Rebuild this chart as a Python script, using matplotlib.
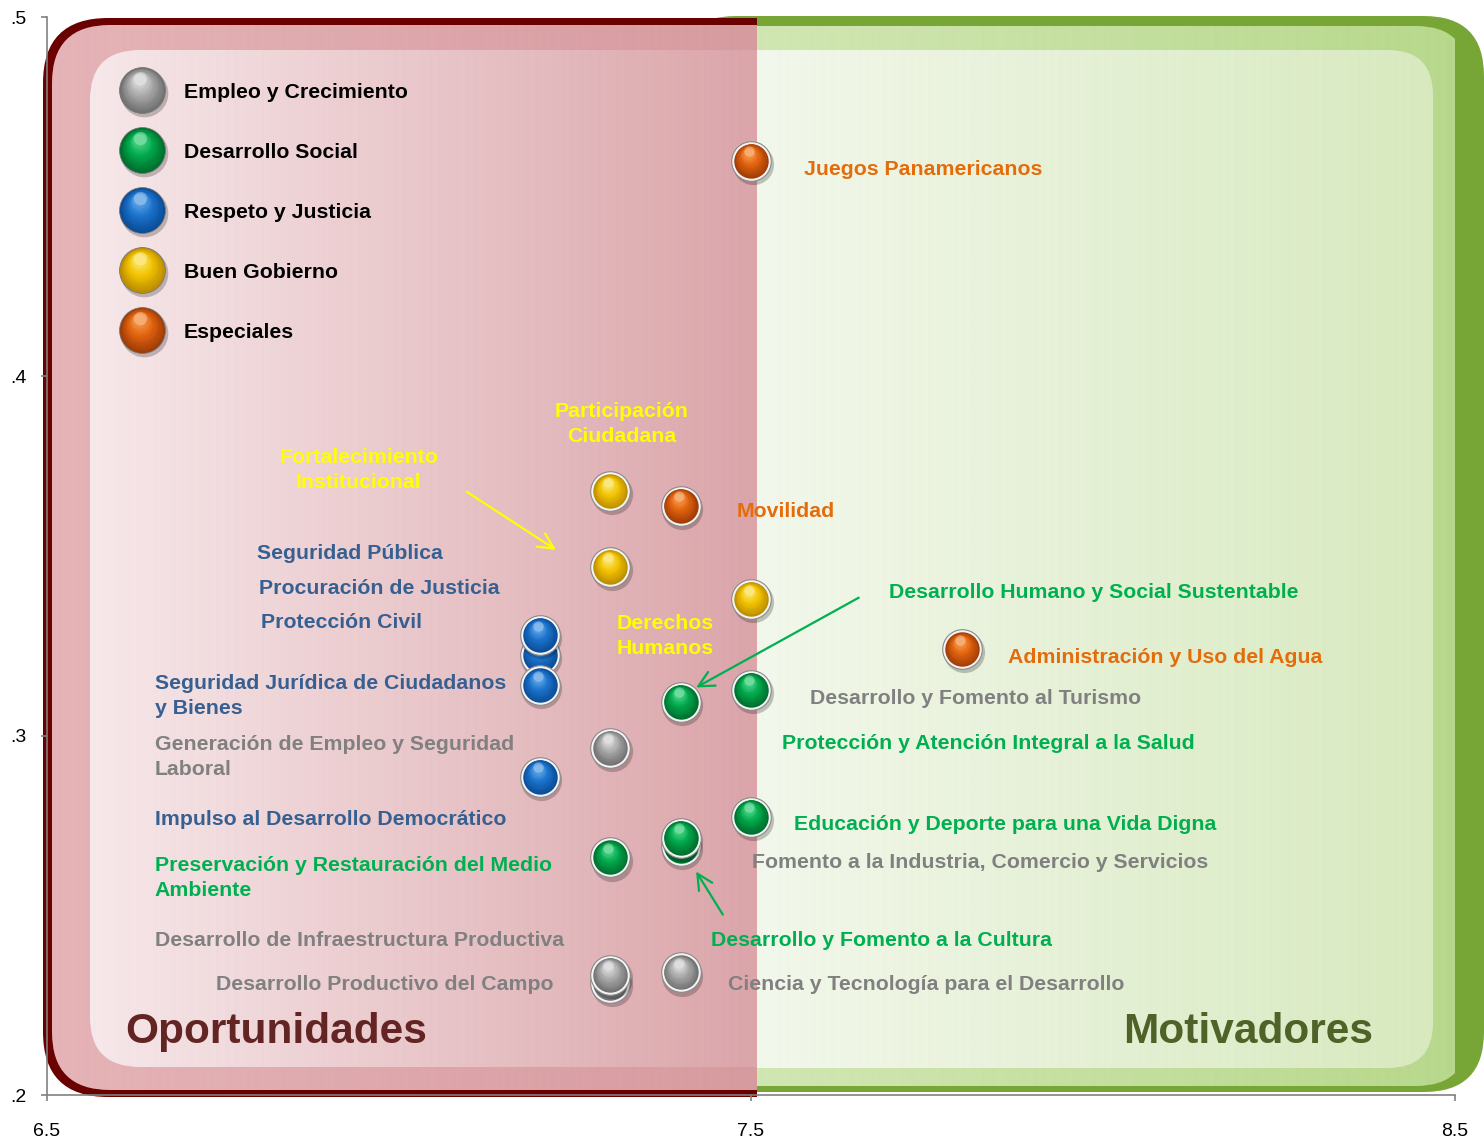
import numpy as np
import matplotlib
matplotlib.use('Agg')
import matplotlib.pyplot as plt
from matplotlib.patches import FancyBboxPatch, Rectangle
from matplotlib.colors import LinearSegmentedColormap
from matplotlib.transforms import offset_copy

# ---- data -------------------------------------------------------------
categories = ['Empleo y Crecimiento', 'Desarrollo Social', 'Respeto y Justicia',
              'Buen Gobierno', 'Especiales']

empleo_x = [7.30, 7.30, 7.30, 7.40]
empleo_y = [0.2967, 0.2313, 0.2335, 0.2341]
social_x = [7.40, 7.50, 7.50, 7.40, 7.40, 7.30]
social_y = [0.3095, 0.3128, 0.2775, 0.2694, 0.2716, 0.2661]
justicia_x = [7.20, 7.20, 7.20, 7.20]
justicia_y = [0.3225, 0.3280, 0.3140, 0.2886]
gobierno_x = [7.30, 7.30, 7.50]
gobierno_y = [0.368, 0.347, 0.338]
especiales_x = [7.50, 7.40, 7.80]
especiales_y = [0.460, 0.364, 0.324]

x_ticks = [6.5, 7.5, 8.5]
x_ticklabels = ['6.5', '7.5', '8.5']
y_ticks = [0.2, 0.3, 0.4, 0.5]
y_ticklabels = ['.2', '.3', '.4', '.5']

# label text, x, y, category index (colour), horizontal alignment
labels = [
    ('Juegos Panamericanos', 7.575, 0.4583, 4, 'left'),
    ('Participación\nCiudadana', 7.316, 0.3876, 3, 'center'),
    ('Fortalecimiento\nInstitucional', 6.943, 0.3747, 3, 'center'),
    ('Movilidad', 7.479, 0.3631, 4, 'left'),
    ('Seguridad Pública', 6.799, 0.3515, 2, 'left'),
    ('Procuración de Justicia', 6.801, 0.3417, 2, 'left'),
    ('Protección Civil', 6.804, 0.3323, 2, 'left'),
    ('Desarrollo Humano y Social Sustentable', 7.696, 0.3406, 1, 'left'),
    ('Derechos\nHumanos', 7.378, 0.3285, 3, 'center'),
    ('Administración y Uso del Agua', 7.865, 0.3225, 4, 'left'),
    ('Seguridad Jurídica de Ciudadanos\ny Bienes', 6.653, 0.3118, 2, 'left'),
    ('Desarrollo y Fomento al Turismo', 7.584, 0.3111, 0, 'left'),
    ('Generación de Empleo y Seguridad\nLaboral', 6.653, 0.2950, 0, 'left'),
    ('Protección y Atención Integral a la Salud', 7.544, 0.2986, 1, 'left'),
    ('Impulso al Desarrollo Democrático', 6.653, 0.2775, 2, 'left'),
    ('Educación y Deporte para una Vida Digna', 7.561, 0.2761, 1, 'left'),
    ('Preservación y Restauración del Medio\nAmbiente', 6.653, 0.2613, 1, 'left'),
    ('Fomento a la Industria, Comercio y Servicios', 7.501, 0.2655, 0, 'left'),
    ('Desarrollo de Infraestructura Productiva', 6.653, 0.2438, 0, 'left'),
    ('Desarrollo y Fomento a la Cultura', 7.443, 0.2438, 1, 'left'),
    ('Desarrollo Productivo del Campo', 6.740, 0.2316, 0, 'left'),
    ('Ciencia y Tecnología para el Desarrollo', 7.467, 0.2316, 0, 'left'),
]

# arrows: (start, end, category index)
arrows = [
    ((7.096, 0.3679), (7.223, 0.3517), 3),
    ((7.653, 0.3384), (7.422, 0.3134), 1),
    ((7.460, 0.2502), (7.422, 0.2622), 1),
]

# ---- style ------------------------------------------------------------
text_colors = ['#808080', '#00B050', '#376092', '#FFFF00', '#E46C0A']
ball_colors = [
    ('#6e6e6e', '#a8a8a8', '#eeeeee'),
    ('#006b2c', '#00a84c', '#63e59a'),
    ('#0a4a94', '#1b73cc', '#7cb9f2'),
    ('#b88a00', '#f2c200', '#fff38a'),
    ('#9c3a06', '#e0620e', '#ffac5e'),
]
FONT = 'Liberation Sans'
FS = 15.3

fig = plt.figure(figsize=(14.84, 11.41), dpi=100)
ax = fig.add_axes([47 / 1484, 46 / 1141, 1408 / 1484, 1078 / 1141])
ax.set_xlim(6.5, 8.5)
ax.set_ylim(0.2, 0.5)

# aspect so that rounded corners are circular in pixels
px_x = 2.0 / 1408
px_y = 0.3 / 1078
asp = px_y / px_x


def shifted(dy):
    return offset_copy(ax.transData, fig=fig, x=0, y=dy, units='points')


def rbox(x0, y0, x1, y1, r, **kw):
    return FancyBboxPatch((x0, y0), x1 - x0, y1 - y0,
                          boxstyle='round,pad=0,rounding_size=%f' % r,
                          mutation_aspect=asp, transform=ax.transData, **kw)


def grad_fill(patch, x0, x1, y0, y1, c0, c1, z):
    cmap = LinearSegmentedColormap.from_list('g', [c0, c1])
    g = np.linspace(0, 1, 256).reshape(1, -1)
    im = ax.imshow(g, extent=[x0, x1, y0, y1], aspect='auto', cmap=cmap,
                   zorder=z, interpolation='bicubic')
    im.set_clip_path(patch)
    # faint vertical stripes
    s = (np.sin(np.linspace(0, 160 * np.pi, 700)) > 0.6).astype(float).reshape(1, -1)
    st = ax.imshow(s, extent=[x0, x1, y0, y1], aspect='auto', cmap='Greys',
                   vmin=0, vmax=8, alpha=0.06, zorder=z + 0.001,
                   interpolation='nearest')
    st.set_clip_path(patch)


# green panel (right)
g_out = rbox(6.5 + 629 * px_x, 0.5 - 1075 * px_y, 6.5 + 1437 * px_x, 0.5 + 1 * px_y,
             60 * px_x, fc='#78a636', ec='none', zorder=0.1, clip_on=False)
ax.add_patch(g_out)
g_frame = rbox(6.5 + 637 * px_x, 0.5 - 1069 * px_y, 6.5 + 1421 * px_x, 0.5 - 9 * px_y,
               52 * px_x, fc='none', ec='none', zorder=0.2, clip_on=False)
ax.add_patch(g_frame)
grad_fill(g_frame, 7.38, 8.53, 0.19, 0.51, '#d2e8b4', '#b3d684', 0.2)
g_in = rbox(6.5 + 660 * px_x, 0.5 - 1051 * px_y, 6.5 + 1386 * px_x, 0.5 - 33 * px_y,
            45 * px_x, fc='none', ec='none', zorder=0.3, clip_on=False)
ax.add_patch(g_in)
grad_fill(g_in, 7.5, 8.5, 0.19, 0.51, '#f2f8eb', '#d5e8ba', 0.3)

# red panel (left), cut at x = 7.5
cut = Rectangle((6.3, 0.1), 7.5 + 6 * px_x - 6.3, 0.5, transform=ax.transData)
r_out = rbox(6.5 - 4 * px_x, 0.5 - 1080 * px_y, 7.9, 0.5 - 1 * px_y,
             65 * px_x, fc='#6a0000', ec='none', zorder=0.4)
ax.add_patch(r_out)
r_out.set_clip_path(cut)
rf = rbox(6.5 + 5 * px_x, 0.5 - 1073 * px_y, 7.9, 0.5 - 8 * px_y,
          58 * px_x, fc='none', ec='none', zorder=0.5)
ax.add_patch(rf)
grad_fill(rf, 6.49, 7.5 + 6 * px_x, 0.19, 0.51, '#e5b0b4', '#d4959a', 0.51)
r_in = rbox(6.5 + 43 * px_x, 0.5 - 1050 * px_y, 7.9, 0.5 - 33 * px_y,
            50 * px_x, fc='none', ec='none', zorder=0.6)
ax.add_patch(r_in)
grad_fill(r_in, 6.5, 7.5 + 6 * px_x, 0.19, 0.51, '#f9ecee', '#d9a0a5', 0.6)


# ---- glossy balls ------------------------------------------------------
def ball(x, y, cols, d, z, rim=True):
    dark, mid, light = cols

    def tr(dx, dy):
        return offset_copy(ax.transData, fig=fig, x=dx, y=dy, units='points')

    ax.scatter([x], [y], s=(d * 1.04) ** 2, color='black', alpha=0.22, lw=0,
               transform=tr(1.2, -2.2), zorder=z, clip_on=False)
    if rim:
        ax.scatter([x], [y], s=d ** 2, color='#f4f4f4', edgecolors='#8a8a8a',
                   linewidths=0.8, zorder=z + 0.001, clip_on=False)
        inner = d * 0.87
    else:
        ax.scatter([x], [y], s=d ** 2, color=dark, edgecolors='#777777',
                   linewidths=0.6, zorder=z + 0.001, clip_on=False)
        inner = d * 0.97
    cmap = LinearSegmentedColormap.from_list('b', [dark, mid, light])
    n = 12
    for i in range(n):
        f = i / (n - 1)
        dd = inner * (1 - 0.72 * f)
        sh = (inner - dd) / 2 * 0.6
        ax.scatter([x], [y], s=dd ** 2, color=cmap(0.05 + 0.75 * f), lw=0,
                   transform=tr(-sh * 0.3, sh), zorder=z + 0.002 + i * 0.0005,
                   clip_on=False)
    ax.scatter([x], [y], s=(inner * 0.3) ** 2, color='white', alpha=0.28, lw=0,
               transform=tr(-inner * 0.05, inner * 0.27), zorder=z + 0.01,
               clip_on=False)


series = [(empleo_x, empleo_y), (social_x, social_y), (justicia_x, justicia_y),
          (gobierno_x, gobierno_y), (especiales_x, especiales_y)]
z = 5.0
for k, (xs, ys) in enumerate(series):
    for x, y in zip(xs, ys):
        ball(x, y, ball_colors[k], 28.5, z)
        z += 0.02

# legend (drawn by hand, glossy markers)
leg_x, leg_tx = 6.635, 6.694
leg_y = [0.4797, 0.4630, 0.4463, 0.4296, 0.4129]
for k, name in enumerate(categories):
    ball(leg_x, leg_y[k], ball_colors[k], 33, 4.0 + k * 0.02, rim=False)
    ax.text(leg_tx, leg_y[k], name, fontsize=FS, fontweight='bold', family=FONT,
            color='black', va='center', ha='left', zorder=4.5,
            transform=shifted(-1.5))

# labels and arrows
for txt, x, y, k, ha in labels:
    ax.text(x, y, txt, fontsize=FS, fontweight='bold', family=FONT,
            color=text_colors[k], ha=ha, va='center', linespacing=1.4,
            multialignment=ha, zorder=3, transform=shifted(-2.2))

for (x0, y0), (x1, y1), k in arrows:
    ax.annotate('', xy=(x1, y1), xytext=(x0, y0),
                arrowprops=dict(arrowstyle='->', color=text_colors[k], lw=1.6,
                                mutation_scale=28, shrinkA=0, shrinkB=0),
                zorder=3)

ax.text(6.611, 0.219, 'Oportunidades', fontsize=30.5, fontweight='bold', family=FONT,
        color='#632523', ha='left', va='center', zorder=3, transform=shifted(-3.6))
ax.text(8.029, 0.219, 'Motivadores', fontsize=30.5, fontweight='bold', family=FONT,
        color='#4f6228', ha='left', va='center', zorder=3, transform=shifted(-3.6))

# axes
for s in ['top', 'right']:
    ax.spines[s].set_visible(False)
for s in ['left', 'bottom']:
    ax.spines[s].set_color('#808080')
    ax.spines[s].set_linewidth(1.2)
    ax.spines[s].set_zorder(10)
ax.set_xticks(x_ticks)
ax.set_xticklabels(x_ticklabels)
ax.set_yticks(y_ticks)
ax.set_yticklabels(y_ticklabels)
ax.tick_params(direction='out', length=4, width=1.2, color='#808080',
               labelsize=14, labelcolor='black')
ax.tick_params(axis='x', pad=16)
ax.tick_params(axis='y', pad=10.5)
for lab in ax.get_xticklabels() + ax.get_yticklabels():
    lab.set_family(FONT)
ax.set_facecolor('white')

fig.savefig('out.png', dpi=100)
